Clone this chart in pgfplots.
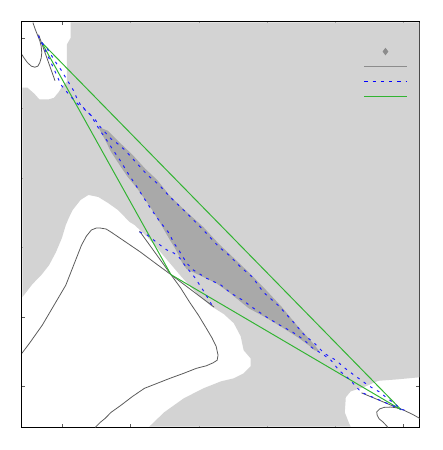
\documentclass[border=0pt]{standalone}
\usepackage{pgfplots}
\pgfplotsset{compat=1.18}
\definecolor{lgray}{RGB}{211,211,211}
\definecolor{dgray}{RGB}{169,169,169}
\definecolor{cgray}{RGB}{90,90,90}
\definecolor{lgline}{RGB}{140,140,140}
\definecolor{pgreen}{RGB}{50,180,50}
\definecolor{pblue}{RGB}{30,30,255}
\begin{document}
\begin{tikzpicture}
\begin{axis}[
  scale only axis, width=202.5pt, height=202.2pt,
  xmin=22.3, xmax=427.3, ymin=22.3, ymax=426.7, y dir=reverse,
  xtick={63.5,133,202.5,272,341.5,410.5},
  ytick={39,108.5,178,247.5,317,386},
  xticklabels={}, yticklabels={},
  tick align=inside, major tick length=1.8pt,
  tick style={cgray, line width=0.4pt},
  axis line style={line width=0.5pt},
  legend style={draw=none, fill=none, inner sep=0pt, row sep=0pt,
    at={(0.858,0.9463)}, anchor=north west,
    nodes={inner sep=0pt, text height=3.8pt, text depth=3.8pt}},
  legend image code/.code={\draw[mark repeat=2,mark phase=2,#1] plot coordinates {(0pt,0pt) (10.75pt,0pt) (21.5pt,0pt)};},
]
% light grey region
\addplot[fill=lgray, draw=none, forget plot] coordinates {
 (72,22.8) (426.8,22.8) (426.8,377) (405,379) (385,380.5) (370,387) (357,391)
 (352,397) (351,412) (355,422) (357,426.2) (152,426.2) (167,412) (187,398)
 (207,388) (225,381) (238,378) (248,373) (255,366) (255,358) (248,350)
 (245,336) (238,323) (228,314) (215,306) (200,293) (185,277) (172,262)
 (160,248) (150,237) (137,225) (132,222) (120,210) (110,203) (100,197)
 (90,195) (82,200) (74,210) (70,218) (67,225) (63,238) (57,252) (50,265)
 (42,275) (33,284) (22.8,297) (22.8,88) (28,88) (35,94) (40,99.5) (50,99.5)
 (55,98) (60,92) (63,87) (68,82) (68,45) (72,38)
} -- cycle;
% dark grey region
\addplot[fill=dgray, draw=none, forget plot] coordinates {
 (100,127) (110,131) (120,141) (135,155) (148,169) (160,180) (173,196)
 (190,212) (207,227) (223,244) (237,257) (253,272) (270,289) (287,307)
 (303,326) (316,340) (322,347) (325,351) (320,350) (317,347) (303,337)
 (287,327) (270,317) (253,308) (233,292) (220,283) (205,276) (190,269)
 (185,262) (183,257) (178,248) (173,240) (163,223) (153,207) (140,189)
 (130,177) (123,167) (113,152) (107,140) (102,131)
} -- cycle;
% contours
\addplot[cgray, line width=0.4pt, forget plot] coordinates {
 (33.5,23) (36,30) (38,35) (40.5,41) (42,47) (42.5,53) (42,58) (40.5,63)
 (38.5,66.5) (35.5,67.5) (32,66.5) (28,63) (25,59) (22.3,55)
};
\addplot[cgray, line width=0.4pt, forget plot] coordinates {
 (22.3,353) (30,343) (43,325) (55,305) (67,285) (75,265) (83,245) (88,236)
 (93,230) (98,228) (102,228) (108,229) (113,232) (128,242) (143,252)
 (158,263) (174,274.5) (184,288) (193,302) (202,315) (210,328) (216,338)
 (220,346) (222,355) (221,360) (217,362.5) (210,365.5) (200,368) (187,373)
 (173,378) (160,383) (147,388) (135,396) (123,405) (113,412) (107,418)
 (102,422) (97,427)
};
\addplot[cgray, line width=0.4pt, forget plot] coordinates {
 (427.3,418) (420,414) (410,409.3) (404,407.5) (398,406.7) (391,407)
 (386.5,408.5) (383.5,411.5) (384,415) (386,418.5) (390,421.7) (395,427)
};
\addplot[cgray, line width=0.4pt, forget plot] coordinates {(39.3,35) (56,81)};
\addplot[cgray, line width=0.4pt, forget plot] coordinates {(142,231) (174,274.5) (218,307)};
\addplot[cgray, line width=0.4pt, forget plot] coordinates {(368,392.5) (408.3,409)};
% green triangle
\addplot[pgreen, line width=0.5pt, forget plot] coordinates {(42.3,42.7) (408.3,409.3)};
\addplot[pgreen, line width=0.5pt, forget plot] coordinates {(42.3,42.7) (174,274.5) (408.3,409.3)};
% blue dashed paths
\addplot[pblue, line width=0.5pt, dash pattern=on 1.4pt off 2.6pt, forget plot] coordinates {
 (39,36) (42.3,42.7) (48,49) (57,63) (62,70) (70,83) (75,91) (78,98) (83,107)
 (90,113) (97,120) (102,127) (113,139) (120,144) (127,150) (138,162)
 (150,175) (162,185) (173,197) (190,213) (207,230) (223,247) (233,255)
 (245,267) (257,277) (268,292) (283,305) (297,320) (310,335) (320,343)
 (330,353) (342,360) (350,367) (358,373) (365,378) (372,383) (378,387)
 (387,392) (393,397) (400,402) (408.3,409) (413,410)
};
\addplot[pblue, line width=0.5pt, dash pattern=on 1.4pt off 2.6pt, forget plot] coordinates {
 (42.3,42.7) (52,63) (58,76) (62,85) (67,91) (75,100) (80,105) (85,108)
 (92,115) (102,131) (107,138) (115,150) (122,160) (130,173) (140,188)
 (153,208) (163,222) (172,233) (177,243) (182,250) (190,263) (197,270)
 (210,278) (225,285) (235,293) (247,300) (258,308) (273,318) (285,325)
 (298,332) (310,340) (317,347) (322,350) (330,355) (337,360) (345,370)
 (357,380) (362,386) (368,392) (408.3,409)
};
\addplot[pblue, line width=0.5pt, dash pattern=on 1.4pt off 2.6pt, forget plot] coordinates {
 (142,232) (150,235) (163,245) (170,250) (177,253) (183,258) (188,265)
 (198,277) (208,292) (217,307)
};
% legend
\addlegendimage{lgline, only marks, mark=diamond*, mark size=1.6pt}
\addlegendentry{}
\addlegendimage{lgline, line width=0.7pt}
\addlegendentry{}
\addlegendimage{legend image code/.code={\draw[blue, line width=0.7pt, dash pattern=on 1.7pt off 2.5pt] (0pt,0pt) -- (21.5pt,0pt);}}
\addlegendentry{}
\addlegendimage{pgreen, line width=0.6pt}
\addlegendentry{}
\end{axis}
\path ([shift={(-11.15pt,-11.65pt)}]current axis.south west) rectangle ([shift={(11.35pt,11.15pt)}]current axis.north east);
\end{tikzpicture}
\end{document}
